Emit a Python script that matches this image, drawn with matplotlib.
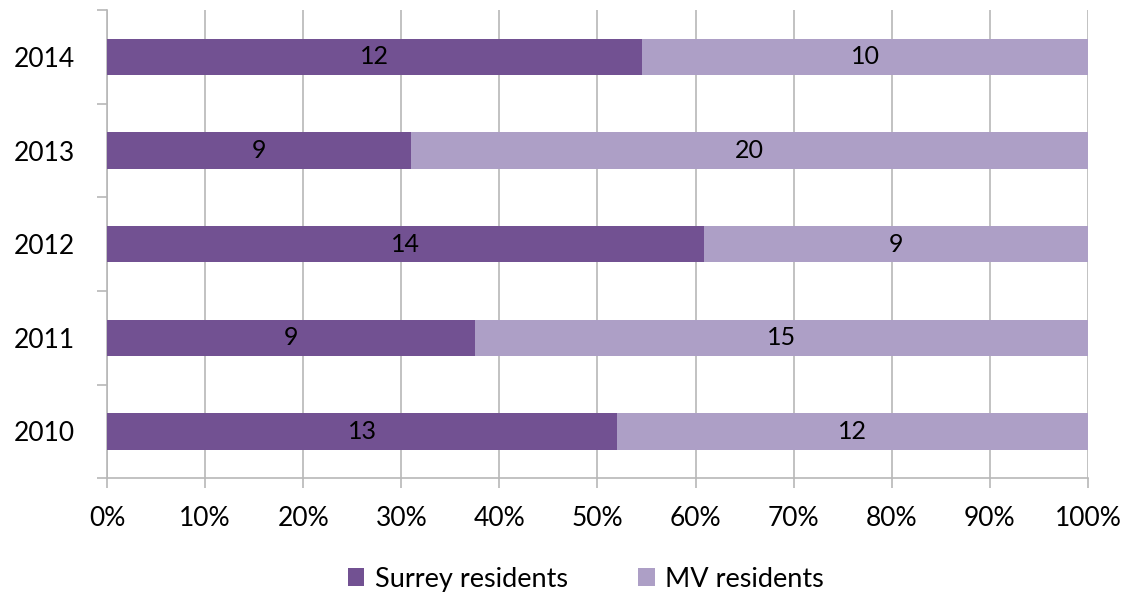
import matplotlib.pyplot as plt
import numpy as np
from matplotlib.ticker import PercentFormatter

years = ["2010", "2011", "2012", "2013", "2014"]
surrey = [13, 9, 14, 9, 12]
mv = [12, 15, 9, 20, 10]

c_surrey = "#725192"
c_mv = "#ad9fc6"
grid_c = "#b8b8b8"

plt.rcParams["font.family"] = ["Lato", "DejaVu Sans"]

fig = plt.figure(figsize=(11.38, 5.97), dpi=100)
ax = fig.add_axes([0.094, 0.199, 0.862, 0.784])

s = np.array(surrey, dtype=float)
m = np.array(mv, dtype=float)
tot = s + m
ps = s / tot * 100
pm = m / tot * 100
y = np.arange(len(years))

b1 = ax.barh(y, ps, height=0.39, color=c_surrey, label="Surrey residents", zorder=3)
b2 = ax.barh(y, pm, left=ps, height=0.39, color=c_mv, label="MV residents", zorder=3)

for i in range(len(years)):
    ax.text(ps[i] / 2, y[i], str(surrey[i]), ha="center", va="center", fontsize=18, zorder=4)
    ax.text(ps[i] + pm[i] / 2, y[i], str(mv[i]), ha="center", va="center", fontsize=18, zorder=4)

ax.set_xlim(0, 100)
ax.set_ylim(-0.5, len(years) - 0.5)
ax.xaxis.set_major_locator(plt.MultipleLocator(10))
ax.xaxis.set_major_formatter(PercentFormatter(decimals=0))
ax.set_yticks(y)
ax.set_yticklabels(years)
ax.set_yticks(np.arange(-0.5, len(years)), minor=True)
ax.tick_params(axis="y", which="major", length=0, pad=23, labelsize=19)
ax.tick_params(axis="y", which="minor", length=7, color=grid_c, width=1.2)
ax.tick_params(axis="x", length=7, color=grid_c, width=1.2, pad=13, labelsize=19)
ax.grid(axis="x", color=grid_c, linewidth=1.2, zorder=0)

for sp in ["top", "right"]:
    ax.spines[sp].set_visible(False)
for sp in ["left", "bottom"]:
    ax.spines[sp].set_color(grid_c)
    ax.spines[sp].set_linewidth(1.2)

fig.legend(handles=[b1, b2], loc="center", bbox_to_anchor=(0.515, 0.03), ncol=2,
           frameon=False, fontsize=19.5, handlelength=0.6, handleheight=0.6,
           handletextpad=0.4, columnspacing=2.6)

fig.savefig("out.png", dpi=100)
